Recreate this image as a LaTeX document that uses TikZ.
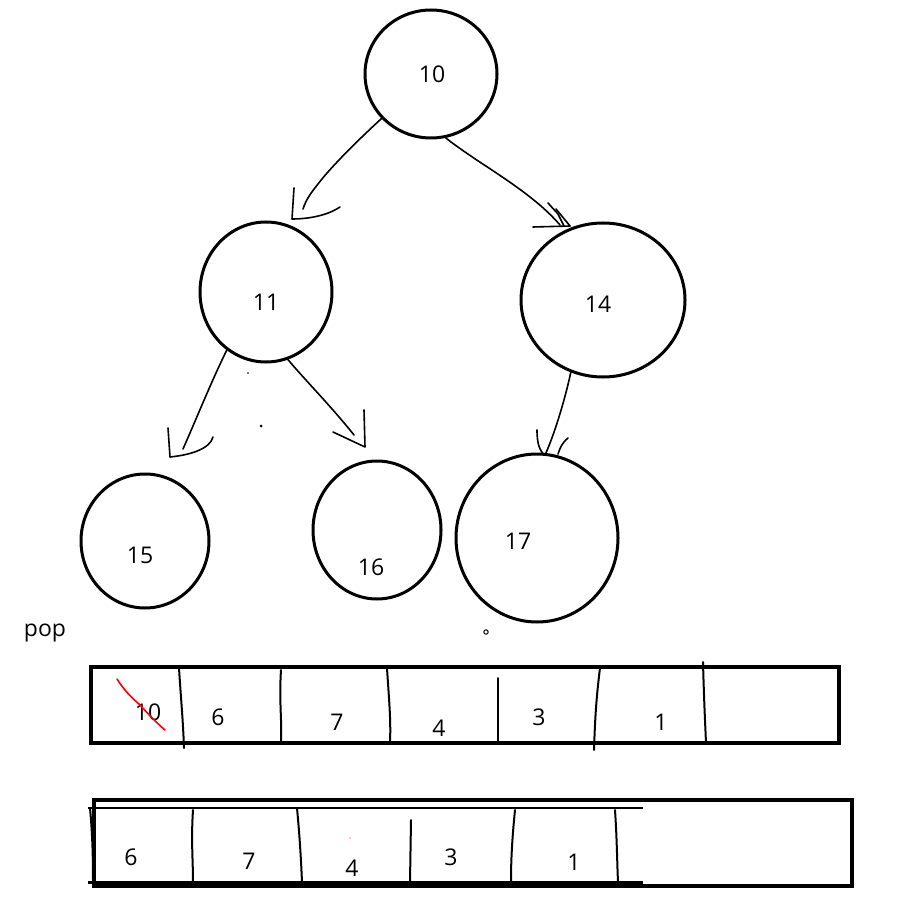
\documentclass[tikz,border=0pt]{standalone}
\usepackage{fontspec}
\setmainfont{Open Sans}
\usetikzlibrary{shapes.geometric}
\begin{document}
\begin{tikzpicture}[x=1pt,y=-1pt,
  circ/.style={draw=black,line width=3pt,ellipse,inner sep=0pt},
  lbl/.style={font=\fontsize{23}{26}\selectfont,inner sep=0pt},
  pen/.style={draw=black,line width=1.6pt,line cap=round,line join=round},
  box/.style={draw=black,line width=3.8pt},
  div/.style={draw=black,line width=2pt,line cap=round}]
\useasboundingbox (0,0) rectangle (902,901);
% circles
\node[circ,minimum width=132pt,minimum height=128pt] (c10) at (431,74) {};
\node[circ,minimum width=132pt,minimum height=140pt] (c11) at (266,292) {};
\node[circ,minimum width=164pt,minimum height=154pt] (c14) at (603,300) {};
\node[circ,minimum width=128pt,minimum height=134pt] (c15) at (145,541) {};
\node[circ,minimum width=128pt,minimum height=138pt] (c16) at (377,530) {};
\node[circ,minimum width=162pt,minimum height=168pt] (c17) at (537,538) {};
% labels
\node[lbl] (t10) at (432,74) {10};
\node[lbl] (t11) at (266,302) {11};
\node[lbl] (t14) at (598,304) {14};
\node[lbl] (t15) at (140,555) {15};
\node[lbl] (t16) at (371,567) {16};
\node[lbl] (t17) at (518,541) {17};
\node[lbl] (tpop) at (45,633) {pop};
% arrow tips
\coordinate (a1) at (303,209);
\coordinate (a2) at (560,225);
\coordinate (a3) at (183,449);
\coordinate (a4) at (354,435);
% 10 -> 11
\draw[pen] (c10.222) .. controls (358,140) and (330,168) .. (318,184) .. controls (310,194) and (306,200) .. (a1);
\draw[pen] (294,188) -- (292,219) .. controls (312,219) and (330,214) .. (340,207);
% 10 -> 14
\draw[pen] (c10.283) .. controls (480,165) and (530,190) .. (a2);
\draw[pen] (548,203) -- (558,214) -- (564,226);
\draw[pen] (556,209) -- (570,226);
\draw[pen] (533,227) -- (570,226);
% 11 -> 15
\draw[pen] (c11.236) .. controls (212,380) and (198,415) .. (a3);
\draw[pen] (168,428) -- (170,457) .. controls (190,455) and (210,449) .. (213,437);
% 11 -> 16
\draw[pen] (c11.288) .. controls (305,380) and (330,405) .. (a4);
\draw[pen] (333,432) -- (365,447) -- (364,410);
% 14 -> 17
\draw[pen] (c14.246) .. controls (566,395) and (556,430) .. (c17.84);
\draw[pen] (537,430) .. controls (537,445) and (540,450) .. (544,455);
\draw[pen] (568,438) .. controls (562,443) and (560,448) .. (558,454);
% dots
\fill (248,373) circle (0.8pt);
\fill (261,426) circle (1.5pt);
\draw[line width=1pt] (486,632) circle (2.2pt);
% array 1
\node[box,minimum width=748pt,minimum height=76pt,inner sep=0pt] (arr1) at (465,705) {};
\draw[div] (179,668) .. controls (181,700) and (183,720) .. (184,748);
\draw[div] (281,670) .. controls (279,700) and (282,720) .. (281,742);
\draw[div] (387,668) .. controls (389,700) and (391,720) .. (390,742);
\draw[div] (498,678) -- (498,743);
\draw[div] (600,668) .. controls (596,700) and (595,720) .. (594,750);
\draw[div] (703,662) .. controls (704,700) and (705,720) .. (706,743);
\node[lbl] (n10) at (148,712) {10};
\draw[red,line width=1.6pt,line cap=round] (117,679) .. controls (124,690) and (130,696) .. (140,705) .. controls (150,716) and (158,724) .. (165,730);
\node[lbl] (n6a) at (218,717) {6};
\node[lbl] (n7a) at (337,722) {7};
\node[lbl] (n4a) at (439,728) {4};
\node[lbl] (n3a) at (539,717) {3};
\node[lbl] (n1a) at (661,722) {1};
% array 2
\node[box,minimum width=758pt,minimum height=86pt,inner sep=0pt] (arr2) at (473,843) {};
\draw[line width=2pt] (88,808) -- (643,808);
\draw[line width=3pt] (88,882) -- (643,882);
\draw[div] (90,808) .. controls (92,830) and (93,850) .. (93,880);
\draw[div] (193,810) .. controls (191,840) and (193,860) .. (193,882);
\draw[div] (297,808) .. controls (300,840) and (301,860) .. (302,882);
\draw[div] (411,820) -- (410,882);
\draw[div] (515,810) .. controls (512,840) and (511,860) .. (511,882);
\draw[div] (615,810) .. controls (617,840) and (617,860) .. (618,882);
\fill[red] (350,838) circle (0.6pt);
\node[lbl] (n6b) at (131,857) {6};
\node[lbl] (n7b) at (249,861) {7};
\node[lbl] (n4b) at (352,868) {4};
\node[lbl] (n3b) at (451,857) {3};
\node[lbl] (n1b) at (574,862) {1};
\end{tikzpicture}
\end{document}
